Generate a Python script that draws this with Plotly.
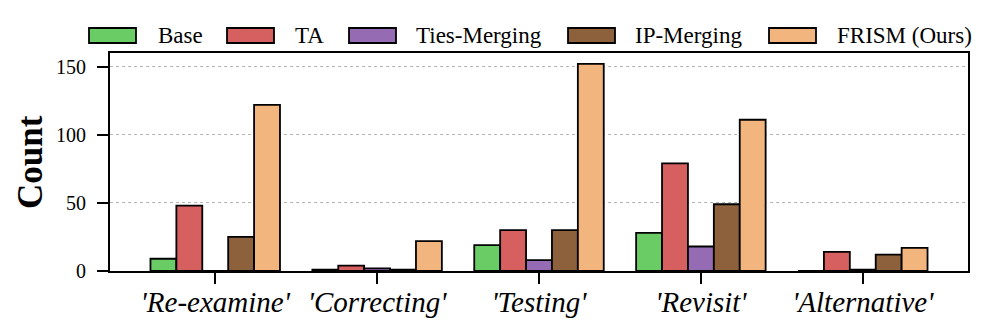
import plotly.graph_objects as go

categories = ["'Re-examine'", "'Correcting'", "'Testing'", "'Revisit'", "'Alternative'"]
series_names = ["Base", "TA", "Ties-Merging", "IP-Merging", "FRISM (Ours)"]
base = [9, 1, 19, 28, 0]
ta = [48, 4, 30, 79, 14]
ties = [0, 2, 8, 18, 1]
ip = [25, 1, 30, 49, 12]
frism = [122, 22, 152, 111, 17]
colors = ["#6acc64", "#d65f5f", "#956cb4", "#8c613c", "#f1b57d"]
y_ticks = [0, 50, 100, 150]

# figure geometry (page is offset by 8px body margin)
W, H = 989, 327
ML, MR, MT, MB = 102, 29, 45, 64
OFF = 8
PW = W - ML - MR
PH = H - MT - MB


def px_to_paper_x(px):
    return (px - OFF - ML) / PW


def px_to_paper_y(py):
    return (H - MB + OFF - py) / PH


font = "Liberation Serif"

fig = go.Figure()
for name, vals, c in zip(series_names, [base, ta, ties, ip, frism], colors):
    fig.add_trace(go.Bar(x=categories, y=vals, name=name, showlegend=False,
                         marker=dict(color=c, line=dict(color="black", width=1.8))))

# custom legend (page-pixel layout)
sw_left = [89, 227, 349, 568, 769]
txt_left = [156, 293, 414, 633, 835]
sw_w, sw_top, sw_bot = 47, 28, 43
shapes, annos = [], []
for name, c, sx, tx in zip(series_names, colors, sw_left, txt_left):
    shapes.append(dict(type="rect", xref="paper", yref="paper",
                       x0=px_to_paper_x(sx), x1=px_to_paper_x(sx + sw_w),
                       y0=px_to_paper_y(sw_bot), y1=px_to_paper_y(sw_top),
                       fillcolor=c, line=dict(color="black", width=1.8)))
    annos.append(dict(text=name, xref="paper", yref="paper", showarrow=False,
                      x=px_to_paper_x(tx), y=px_to_paper_y(36), xanchor="left", yanchor="middle",
                      font=dict(size=23, family=font, color="black")))
annos.append(dict(text="<b>Count</b>", xref="paper", yref="paper", showarrow=False,
                  x=px_to_paper_x(30), y=0.5, xanchor="center", yanchor="middle", textangle=-90,
                  font=dict(size=35, family=font, color="black")))

fig.update_layout(
    width=W, height=H,
    margin=dict(l=ML, r=MR, t=MT, b=MB, autoexpand=False),
    plot_bgcolor="white", paper_bgcolor="white",
    barmode="group", bargap=0.2, bargroupgap=0,
    font=dict(family=font, color="black"),
    showlegend=False,
    shapes=shapes, annotations=annos,
    xaxis=dict(range=[-0.65, 4.65], showline=True, linecolor="black", linewidth=2, mirror=True,
               ticks="outside", ticklen=11, tickwidth=2, tickcolor="black",
               tickfont=dict(size=29, family=font, style="italic"), ticklabelstandoff=-7),
    yaxis=dict(range=[0, 160], showline=True, linecolor="black", linewidth=2, mirror=True,
               ticks="outside", ticklen=11, tickwidth=2, tickcolor="black",
               tickvals=y_ticks, tickfont=dict(size=20, family=font), ticklabelstandoff=7,
               showgrid=True, gridcolor="#b5b5b5", griddash="dot", gridwidth=1.3,
               zeroline=False),
)
fig.write_html("out.html")
